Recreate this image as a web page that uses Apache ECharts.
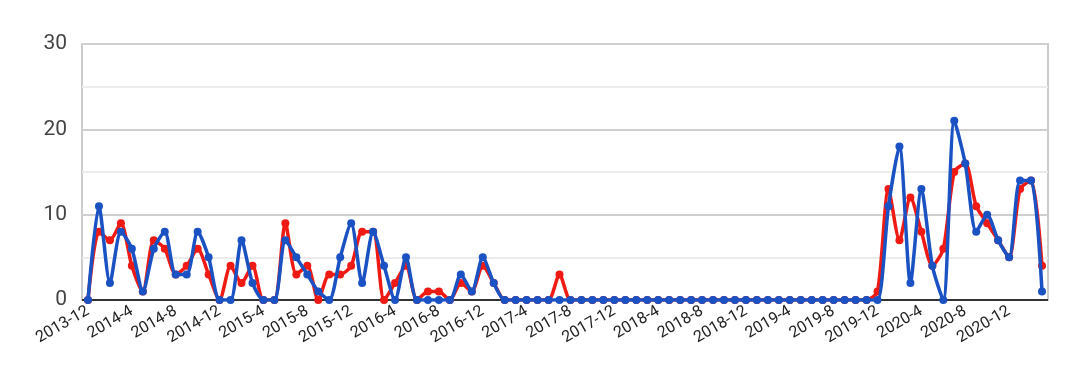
<!DOCTYPE html>
<html><head><meta charset="utf-8">
<script src="https://cdn.jsdelivr.net/npm/echarts@6/dist/echarts.min.js"></script>
<style>html,body{margin:0;padding:0;background:#fff}#c{width:1080px;height:382px}</style>
</head><body><div id="c"></div>
<script>
// Monthly categories 2013-12 .. 2021-3
const categories = [];
for (let y = 2013, m = 12; categories.length < 88; ) {
  categories.push(y + '-' + m);
  m++; if (m > 12) { m = 1; y++; }
}
const redValues = [0,8,7,9,4,1,7,6,3,4,6,3,0,4,2,4,0,0,9,3,
  4,0,3,3,4,8,8,0,2,4,0,1,1,0,2,1,4,2,
  0,0,0,0,0,3,0,0,0,0,0,0,0,0,0,0,0,0,0,0,0,0,0,0,0,0,0,0,0,0,0,0,0,0,
  1,13,7,12,8,4,6,15,16,11,9,7,5,13,14,4];
const blueValues = [0,11,2,8,6,1,6,8,3,3,8,5,0,0,7,2,0,0,7,5,
  3,1,0,5,9,2,8,4,0,5,0,0,0,0,3,1,5,2,
  0,0,0,0,0,0,0,0,0,0,0,0,0,0,0,0,0,0,0,0,0,0,0,0,0,0,0,0,0,0,0,0,0,0,
  0,11,18,2,13,4,0,21,16,8,10,7,5,14,14,1];
const yTicks = [0, 10, 20, 30];

const chart = echarts.init(document.getElementById('c'), null, {renderer: 'canvas'});
const font = 'Roboto';
chart.setOption({
  animation: false,
  grid: [
    {left: 82, right: 32, top: 44, bottom: 82, show: true, borderColor: '#cccccc', borderWidth: 2, backgroundColor: 'transparent'},
    {left: 88, right: 38, top: 44, bottom: 82}
  ],
  xAxis: [
    {gridIndex: 0, type: 'value', min: 0, max: 1, show: false},
    {gridIndex: 1, type: 'category', data: categories, boundaryGap: false,
     axisLine: {show: false}, axisTick: {show: false}, splitLine: {show: false},
     axisLabel: {interval: 3, rotate: 30, fontFamily: font, fontSize: 16, color: '#222', margin: 10}}
  ],
  yAxis: [
    {gridIndex: 0, type: 'value', min: 0, max: 30, interval: 10,
     axisLine: {show: false}, axisTick: {show: false},
     axisLabel: {fontFamily: font, fontSize: 21, color: '#444', margin: 15},
     splitLine: {lineStyle: {color: '#cfcfcf', width: 2}},
     minorTick: {show: false, splitNumber: 2},
     minorSplitLine: {show: true, lineStyle: {color: '#ececec', width: 2}}},
    {gridIndex: 1, type: 'value', min: 0, max: 30, interval: 10, show: false}
  ],
  series: [
    {type: 'line', xAxisIndex: 0, yAxisIndex: 0, data: [[0,0],[1,0]], symbol: 'none',
     lineStyle: {color: '#333', width: 2}, silent: true, z: 1},
    {name: 'red', type: 'line', xAxisIndex: 1, yAxisIndex: 1, data: redValues, smooth: 0.25,
     symbol: 'circle', symbolSize: 8, showSymbol: true, showAllSymbol: true, itemStyle: {color: '#f01a14'},
     lineStyle: {color: '#f01a14', width: 3.5}, z: 3},
    {name: 'blue', type: 'line', xAxisIndex: 1, yAxisIndex: 1, data: blueValues, smooth: 0.25,
     symbol: 'circle', symbolSize: 8, showSymbol: true, showAllSymbol: true, itemStyle: {color: '#1a52c4'},
     lineStyle: {color: '#1a52c4', width: 3.5}, z: 4}
  ]
});
</script>
</body></html>
